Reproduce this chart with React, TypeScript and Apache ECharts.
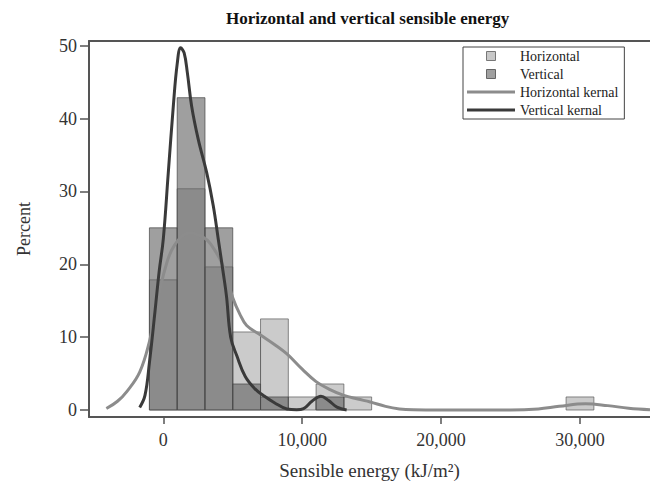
import React, { useEffect, useRef } from "react";
import * as echarts from "echarts";

const TITLE = "Horizontal and vertical sensible energy";
const X_NAME = "Sensible energy (kJ/m²)";
const Y_NAME = "Percent";

// Histogram bins (centre of each bin, common bin width) in kJ/m²
const binCenters = [0, 2000, 4000, 6000, 8000, 10000, 12000, 14000, 30000];
const binWidth = 2000;

// Percent of observations per bin
const horizontalPct = [17.86, 30.36, 19.64, 10.71, 12.5, 1.79, 3.57, 1.79, 1.79];
const verticalPct = [25.0, 42.86, 25.0, 3.57, 1.79, 0, 1.79, 0, 0];

// Kernel density estimates, scaled to percent
const horizontalKernelX = [
  -4100, -3300, -2600, -1700, -1000, -500, 100, 800, 1900, 2800, 3400, 4300, 5000, 5500,
  6000, 7000, 8000, 8900, 10000, 11000, 12000, 13000, 14000, 14900, 16000, 17000, 18000,
  20000, 25000, 27000, 28500, 30400, 32000, 33500, 35040,
];
const horizontalKernelY = [
  0.2, 1.2, 2.6, 5.2, 9.4, 14.0, 19.2, 22.6, 24.3, 23.8, 22.8, 19.8, 15.4, 13.2,
  11.6, 10.3, 9.0, 7.7, 5.6, 3.9, 2.8, 2.0, 1.5, 1.1, 0.5, 0.15, 0.03,
  0, 0, 0.15, 0.5, 0.85, 0.6, 0.25, 0.05,
];
const verticalKernelX = [
  -1700, -1320, -1000, -600, -300, 0, 360, 720, 1000, 1250, 1500, 1730, 2040, 2520, 3120,
  3600, 3960, 4300, 4550, 4850, 5300, 5900, 6600, 7200, 8000, 8900, 9600, 10100, 10700,
  11350, 11900, 12500, 13200,
];
const verticalKernelY = [
  0.35, 2.0, 6.5, 13.5, 19.0, 23.5, 32.6, 41.7, 47.5, 49.7, 49.0, 46.3, 41.7, 37.1, 32.6,
  28.0, 23.4, 19.0, 15.6, 10.0, 7.4, 4.6, 2.9, 2.0, 1.0, 0.15, 0.05, 0.2, 1.2,
  1.9, 1.3, 0.4, 0.0,
];

const xTicks = [0, 10000, 20000, 30000];
const yTicks = [0, 10, 20, 30, 40, 50];

const X_MIN = -5350;
const X_MAX = 35040;
const Y_MIN = -0.96;
const Y_MAX = 50.64;

const SERIF = "'Liberation Serif', 'Times New Roman', serif";

function binData(pct: number[]) {
  return binCenters
    .map((c, i) => [c - binWidth / 2, c + binWidth / 2, pct[i]])
    .filter((d) => d[2] > 0);
}

function pairs(xs: number[], ys: number[]) {
  return xs.map((x, i) => [x, ys[i]]);
}

function histogramSeries(name: string, pct: number[], fill: string, stroke: string) {
  return {
    type: "custom",
    name,
    data: binData(pct),
    encode: { x: [0, 1], y: 2 },
    itemStyle: { color: fill },
    renderItem: (_params: any, api: any) => {
      const p0 = api.coord([api.value(0), api.value(2)]);
      const p1 = api.coord([api.value(1), 0]);
      return {
        type: "rect",
        shape: { x: p0[0], y: p0[1], width: p1[0] - p0[0], height: p1[1] - p0[1] },
        style: { fill, stroke, lineWidth: 1 },
      };
    },
  };
}

export default function App() {
  const ref = useRef<HTMLDivElement>(null);

  useEffect(() => {
    if (!ref.current) return;
    const chart = echarts.init(ref.current, null, { renderer: "svg" });
    const square = "path://M0,0h10v10h-10z";
    const bar = "path://M0,0h48v3h-48z";

    chart.setOption({
      animation: false,
      backgroundColor: "#ffffff",
      title: {
        text: TITLE,
        left: 226,
        top: 10,
        padding: 0,
        textStyle: { fontFamily: SERIF, fontSize: 17, fontWeight: "bold", color: "#111" },
      },
      legend: {
        orient: "vertical",
        left: 463,
        top: 47,
        padding: [2, 6, 2, 4],
        itemGap: 4,
        itemWidth: 48,
        itemHeight: 9,
        borderColor: "#444",
        borderWidth: 1,
        textStyle: { fontFamily: SERIF, fontSize: 14, color: "#222" },
        data: [
          { name: "Horizontal", icon: square, itemStyle: { color: "#c8c8c8", borderColor: "#777", borderWidth: 1 } },
          { name: "Vertical", icon: square, itemStyle: { color: "#a0a0a0", borderColor: "#666", borderWidth: 1 } },
          { name: "Horizontal kernal", icon: bar, itemStyle: { color: "#8c8c8c", borderWidth: 0 } },
          { name: "Vertical kernal", icon: bar, itemStyle: { color: "#3a3a3a", borderWidth: 0 } },
        ],
      },
      grid: { left: 89, right: 0, top: 41, bottom: 67 },
      xAxis: [
        {
          type: "value",
          position: "bottom",
          min: X_MIN,
          max: X_MAX,
          name: X_NAME,
          nameLocation: "middle",
          nameGap: 44,
          nameTextStyle: { fontFamily: SERIF, fontSize: 19, color: "#333" },
          axisLine: { show: true, onZero: false, lineStyle: { color: "#555", width: 2 } },
          axisTick: { show: true, length: 7, customValues: xTicks, lineStyle: { color: "#555", width: 1.5 } },
          axisLabel: {
            customValues: xTicks,
            margin: 14,
            fontFamily: SERIF,
            fontSize: 18,
            color: "#333",
            formatter: (v: number) => v.toLocaleString("en-US"),
          },
          splitLine: { show: false },
        },
        {
          type: "value",
          position: "top",
          min: X_MIN,
          max: X_MAX,
          axisLine: { show: true, onZero: false, lineStyle: { color: "#555", width: 2 } },
          axisTick: { show: false },
          axisLabel: { show: false },
          splitLine: { show: false },
        },
      ],
      yAxis: {
        type: "value",
        min: Y_MIN,
        max: Y_MAX,
        name: Y_NAME,
        nameLocation: "middle",
        nameGap: 56,
        nameRotate: 90,
        nameTextStyle: { fontFamily: SERIF, fontSize: 18, color: "#333" },
        axisLine: { show: true, onZero: false, lineStyle: { color: "#555", width: 2 } },
        axisTick: { show: true, length: 9, customValues: yTicks, lineStyle: { color: "#555", width: 1.5 } },
        axisLabel: { customValues: yTicks, margin: 12, fontFamily: SERIF, fontSize: 18, color: "#333" },
        splitLine: { show: false },
      },
      series: [
        histogramSeries("Horizontal", horizontalPct, "rgba(140,140,140,0.45)", "rgba(90,90,90,0.7)"),
        histogramSeries("Vertical", verticalPct, "rgba(100,100,100,0.62)", "rgba(70,70,70,0.7)"),
        {
          type: "line",
          name: "Horizontal kernal",
          data: pairs(horizontalKernelX, horizontalKernelY),
          smooth: 0.4,
          symbol: "none",
          itemStyle: { color: "#8c8c8c" },
          lineStyle: { color: "#8c8c8c", width: 3 },
          z: 3,
        },
        {
          type: "line",
          name: "Vertical kernal",
          data: pairs(verticalKernelX, verticalKernelY),
          smooth: 0.4,
          symbol: "none",
          itemStyle: { color: "#3a3a3a" },
          lineStyle: { color: "#3a3a3a", width: 3 },
          z: 4,
        },
      ],
    });

    return () => chart.dispose();
  }, []);

  return (
    <div
      ref={ref}
      style={{ position: "fixed", left: 0, top: 0, width: 650, height: 485, background: "#fff" }}
    />
  );
}
